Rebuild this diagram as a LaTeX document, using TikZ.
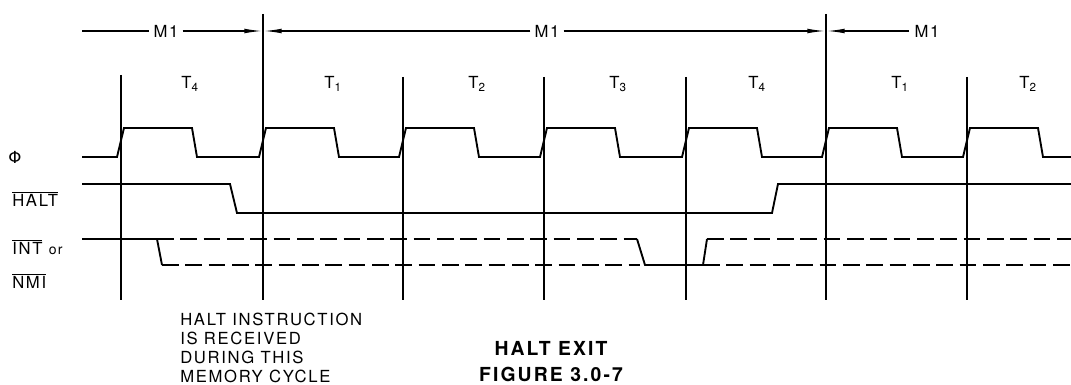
\documentclass[tikz,border=0pt]{standalone}
\usepackage{fontspec}
\setmainfont{TeX Gyre Heros}
\newfontfamily\labelfont{TeX Gyre Heros}[LetterSpace=10]
\newfontfamily\titlefont{TeX Gyre Heros}[LetterSpace=11]
\newfontfamily\phifont{DejaVu Sans}
\usetikzlibrary{arrows.meta}
\newcommand\ovl[1]{\ensuremath{\overline{\mbox{#1}}}}
\begin{document}
\begin{tikzpicture}[
    x=0.75pt,y=-0.75pt,
    every node/.style={font=\labelfont\fontsize{12.5}{14.25}\selectfont,inner sep=0pt},
    sig/.style={line width=1.4pt},
    tick/.style={line width=1.1pt},
    open/.style={sig,dash pattern=on 12.5pt off 5pt},
    cyc/.style={line width=1.1pt,-{Latex[length=14pt,width=3.5pt]}}]
    \useasboundingbox (0,0) rectangle (1071,385);
    % clock period boundaries
    \foreach \x/\t [count=\i] in {121/75,263/14,403/77,544/77,686/77,826/14,967/77} {
        \draw[tick] (\x,\t) coordinate (v\i) -- (\x,300);
    }
    % machine cycles
    \coordinate (m1start) at (82,31);
    \node[inner xsep=3pt] (m1a) at (166,31) {M1};
    \node[inner xsep=3pt] (m1b) at (547,31) {M1};
    \node[inner xsep=4pt,anchor=west] (m1c) at (909,31) {M1};
    \draw[tick] (m1start) -- (m1a);
    \draw[cyc] (m1a) -- (v2 |- m1a);
    \draw[cyc] (m1b) -- (v2 |- m1b);
    \draw[cyc] (m1b) -- (v6 |- m1b);
    \draw[cyc] (m1c) -- (v6 |- m1c);
    % T states
    \foreach \x/\n [count=\i] in {190/4,333/1,477/2,618/3,757/4,900/1,1028/2}
        \node[anchor=base] (t\i) at (\x,89) {T\textsubscript{\n}};
    % clock
    \draw[sig] (82,157)
        \foreach \x in {121,263,403,544,686,826,967} {
            -- ({\x-4},157) -- ({\x+3},128) -- ({\x+71},128) -- ({\x+76},157)
        } -- (1071,157);
    % HALT
    \draw[sig] (82,184) -- (230,184) -- (237,213) -- (772,213) -- (778,184) -- (1071,184);
    % INT or NMI
    \draw[sig] (82,239) -- (157,239) -- (162,265);
    \draw[open] (157,239) -- (637,239);
    \draw[open] (162,265) -- (640,265);
    \draw[sig] (637,239) -- (645,265) -- (703,265) -- (707,239);
    \draw[open] (707,239) -- (1071,239);
    \draw[open] (703,265) -- (1071,265);
    % signal names
    \node[font=\phifont\fontsize{12.5}{14}\selectfont] (phi) at (15,157) {Φ};
    \node[anchor=base west] (halt) at (12,206) {\ovl{HALT}};
    \node[anchor=base west] (int) at (12,254) {\ovl{INT} {\fontsize{10.5}{11}\selectfont or}};
    \node[anchor=base west] (nmi) at (12,288) {\ovl{NMI}};
    % notes
    \node[anchor=north west,align=left] (note) at (180,313)
        {HALT INSTRUCTION\\IS RECEIVED\\DURING THIS\\MEMORY CYCLE};
    \node[anchor=north,align=center,font=\titlefont\bfseries\fontsize{14.5}{19.5}\selectfont]
        (title) at (551,341) {HALT EXIT\\FIGURE 3.0-7};
\end{tikzpicture}
\end{document}
